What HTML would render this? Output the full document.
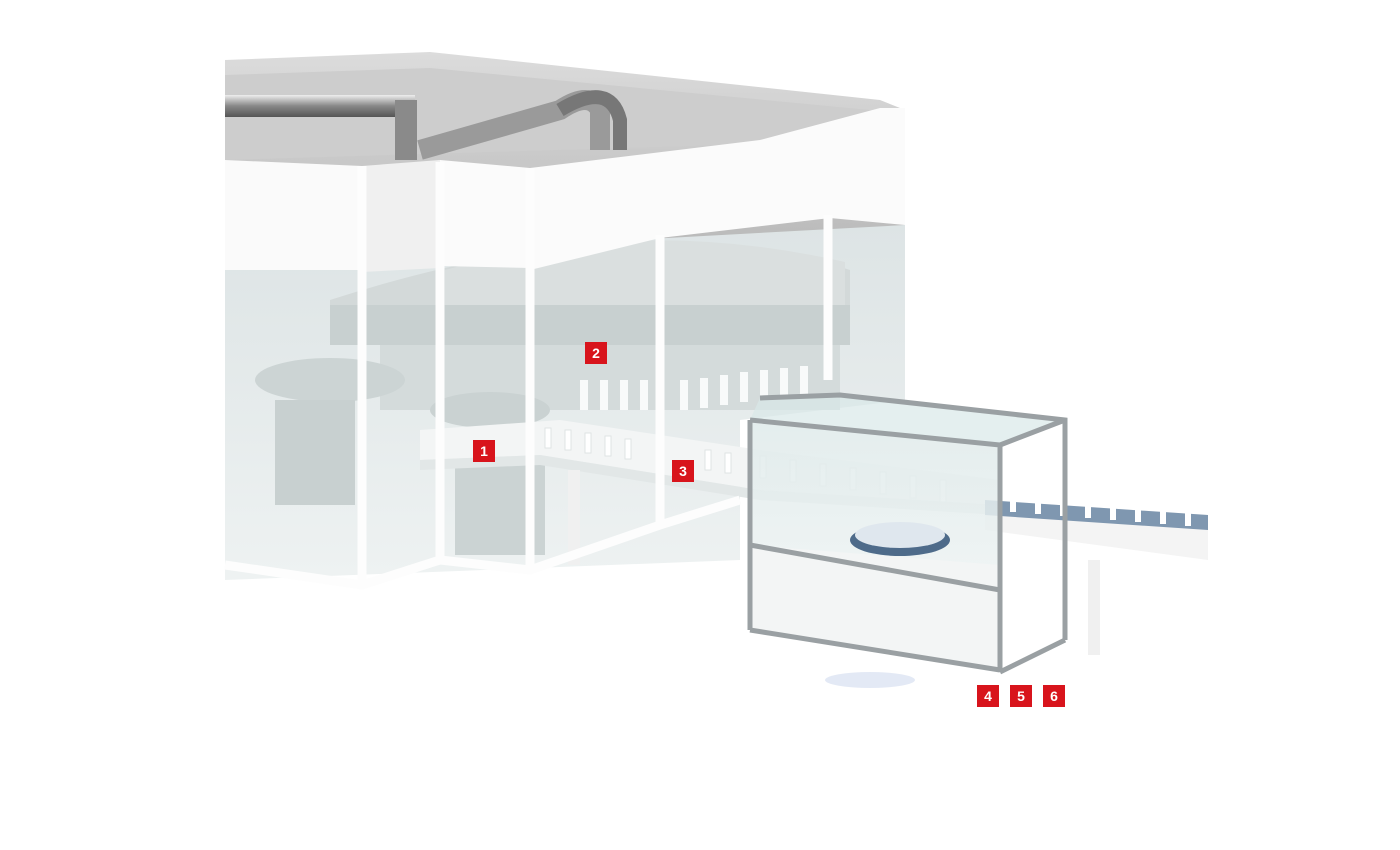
<!DOCTYPE html>
<html><head><meta charset="utf-8"><style>
html,body{margin:0;padding:0;background:#fff;}
.wrap{position:relative;width:1400px;height:850px;overflow:hidden;font-family:"Liberation Sans",sans-serif;}
.lab{position:absolute;width:22px;height:22px;background:#d8141c;color:#fff;font-weight:bold;font-size:14px;line-height:22px;text-align:center;}
</style></head><body><div class="wrap">
<svg width="1400" height="850" viewBox="0 0 1400 850" style="position:absolute;left:0;top:0">
<defs>
<linearGradient id="roof" x1="0" y1="0" x2="0" y2="1"><stop offset="0" stop-color="#dcdcdc"/><stop offset="1" stop-color="#b5b5b5"/></linearGradient>
<linearGradient id="glass" x1="0" y1="0" x2="0" y2="1"><stop offset="0" stop-color="#dde4e5"/><stop offset="1" stop-color="#eef2f2"/></linearGradient>
<linearGradient id="pipe" x1="0" y1="0" x2="0" y2="1"><stop offset="0" stop-color="#eee"/><stop offset=".5" stop-color="#888"/><stop offset="1" stop-color="#555"/></linearGradient>
<linearGradient id="bx" x1="0" y1="0" x2="0" y2="1"><stop offset="0" stop-color="#dfeaea"/><stop offset="1" stop-color="#f4f7f7"/></linearGradient>
</defs>
<polygon points="225,60 430,52 880,100 905,110 905,240 225,270" fill="url(#roof)"/>
<polygon points="225,75 430,68 870,110 890,118 890,140 225,160" fill="#cdcdcd"/>
<rect x="225" y="95" width="190" height="22" fill="url(#pipe)"/>
<rect x="395" y="100" width="22" height="60" fill="#8a8a8a"/>
<path d="M420,150 L560,110 Q590,90 600,110 L600,150" stroke="#9a9a9a" stroke-width="20" fill="none"/>
<path d="M560,110 Q610,80 620,120 L620,150" stroke="#777" stroke-width="14" fill="none"/>
<polygon points="225,262 905,225 905,400 740,420 740,560 225,580" fill="url(#glass)"/>
<path d="M330,300 Q640,200 850,270 L850,330 L330,330 Z" fill="#d3d9d9"/>
<path d="M445,270 Q640,215 845,262 L845,305 L445,305 Z" fill="#dadfdf"/>
<rect x="330" y="305" width="520" height="40" fill="#c8d0d0"/>
<rect x="380" y="345" width="460" height="65" fill="#d4dbdb"/>
<g fill="#f8fafa">
<rect x="580" y="380" width="8" height="30"/><rect x="600" y="380" width="8" height="30"/><rect x="620" y="380" width="8" height="30"/><rect x="640" y="380" width="8" height="30"/><rect x="680" y="380" width="8" height="30"/><rect x="700" y="378" width="8" height="30"/><rect x="720" y="375" width="8" height="30"/><rect x="740" y="372" width="8" height="30"/><rect x="760" y="370" width="8" height="30"/><rect x="780" y="368" width="8" height="30"/><rect x="800" y="366" width="8" height="30"/>
</g>
<ellipse cx="330" cy="380" rx="75" ry="22" fill="#ccd4d4"/>
<rect x="275" y="400" width="80" height="105" fill="#c8d0d0"/>
<ellipse cx="490" cy="410" rx="60" ry="18" fill="#cad2d2"/>
<rect x="455" y="460" width="90" height="95" fill="#cbd3d3"/>
<polygon points="420,430 560,420 760,450 1000,480 1000,505 760,490 540,455 420,460" fill="#f3f5f5"/>
<g fill="#fff" stroke="#dfe4e4" stroke-width="1">
<rect x="545" y="428" width="6" height="20"/><rect x="565" y="430" width="6" height="20"/><rect x="585" y="433" width="6" height="20"/><rect x="605" y="436" width="6" height="20"/><rect x="625" y="439" width="6" height="20"/><rect x="705" y="450" width="6" height="20"/><rect x="725" y="453" width="6" height="20"/><rect x="760" y="456" width="6" height="22"/><rect x="790" y="460" width="6" height="22"/><rect x="820" y="464" width="6" height="22"/><rect x="850" y="468" width="6" height="22"/><rect x="880" y="472" width="6" height="22"/><rect x="910" y="476" width="6" height="22"/><rect x="940" y="480" width="6" height="22"/>
</g>
<polygon points="420,460 540,455 760,490 1000,505 1000,515 760,500 540,465 420,470" fill="#e2e7e7"/>
<polygon points="985,500 1208,515 1208,560 985,530" fill="#f4f4f4"/>
<polygon points="985,500 1208,515 1208,530 985,515" fill="#7f97b0"/>
<g fill="#fff"><rect x="1010" y="492" width="6" height="20"/><rect x="1035" y="494" width="6" height="20"/><rect x="1060" y="496" width="6" height="20"/><rect x="1085" y="498" width="6" height="20"/><rect x="1110" y="500" width="6" height="20"/><rect x="1135" y="502" width="6" height="20"/><rect x="1160" y="504" width="6" height="20"/><rect x="1185" y="506" width="6" height="20"/></g>
<rect x="1088" y="560" width="12" height="95" fill="#f0f0f0"/>
<rect x="568" y="470" width="12" height="95" fill="#f0f0f0"/>
<polygon points="225,160 362,166 362,270 225,270" fill="#fafafa"/>
<polygon points="362,166 440,160 440,268 362,272" fill="#f0f0f0"/>
<polygon points="440,160 530,168 530,268 440,266" fill="#fbfbfb"/>
<polygon points="530,168 760,140 880,108 905,108 905,225 830,218 660,238 530,270" fill="#fbfbfb"/>
<g stroke="#fdfdfd" stroke-width="9" fill="none">
<line x1="362" y1="166" x2="362" y2="585"/><line x1="440" y1="162" x2="440" y2="560"/><line x1="530" y1="168" x2="530" y2="570"/><line x1="660" y1="235" x2="660" y2="525"/><line x1="828" y1="215" x2="828" y2="380"/>
<polyline points="225,565 362,585 440,560 530,570 660,525 740,500"/>
</g>
<polygon points="750,420 1000,445 1000,670 750,630" fill="url(#bx)" opacity=".85"/>
<polygon points="750,545 1000,565 1000,670 750,630" fill="#f3f5f5"/>
<polygon points="760,398 840,395 1065,420 1000,445 750,420" fill="#d9e8e8" opacity=".7"/>
<ellipse cx="900" cy="540" rx="50" ry="16" fill="#4e6b8a"/>
<ellipse cx="900" cy="535" rx="45" ry="13" fill="#dfe7ee"/>
<g stroke="#9aa0a3" stroke-width="5" fill="none">
<polyline points="750,420 1000,445 1000,672"/><line x1="750" y1="420" x2="750" y2="630"/><line x1="750" y1="630" x2="1000" y2="670"/><line x1="750" y1="545" x2="1000" y2="590"/>
<polyline points="760,398 840,395 1065,420 1065,640"/><line x1="1000" y1="445" x2="1065" y2="420"/><line x1="1000" y1="672" x2="1065" y2="640"/>
</g>
<ellipse cx="870" cy="680" rx="45" ry="8" fill="#dce4f2" opacity=".8"/>
</svg>
<div class="lab" style="left:473px;top:440px">1</div>
<div class="lab" style="left:585px;top:342px">2</div>
<div class="lab" style="left:672px;top:460px">3</div>
<div class="lab" style="left:977px;top:685px">4</div>
<div class="lab" style="left:1010px;top:685px">5</div>
<div class="lab" style="left:1043px;top:685px">6</div>
</div></body></html>
